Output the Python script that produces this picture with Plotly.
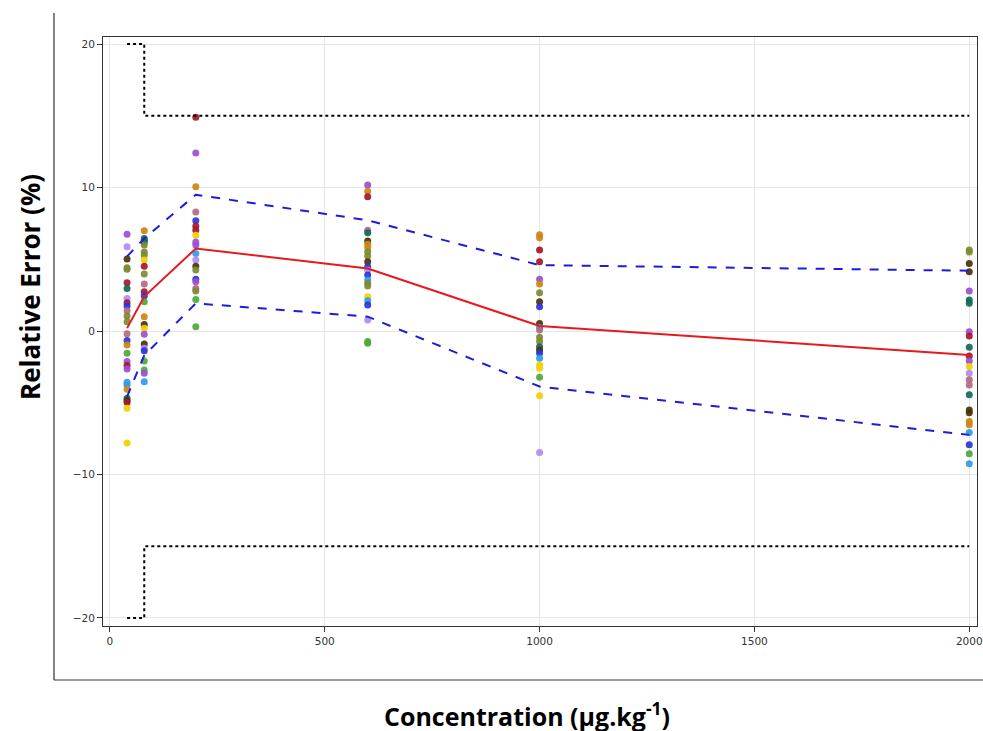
import plotly.graph_objects as go

# ---------------- data ----------------
palette = {
    "purple": "#9a4fd0", "lpurple": "#b08cf2", "dbrown": "#4a3208", "olive": "#7d8a2e",
    "yellow": "#f2d000", "dred": "#a3172d", "teal": "#0f6a5a", "mauve": "#b26a80",
    "blue": "#2a34d8", "lblue": "#2f9ae8", "green": "#4ea73a", "orange": "#cf8410",
}

conc_levels = [40, 80, 200, 600, 1000, 2000]

c40_vals = [6.75, 5.87, 5.01, 4.4, 4.3, 3.36, 2.97, 2.27, 1.97, 1.74, 1.41, 1.04, 0.65, -0.2, -0.67,
            -0.97, -1.55, -2.13, -2.41, -2.65, -3.57, -3.76, -4.06, -4.69, -4.85, -4.99, -5.38, -7.8]
c40_cols = ["purple", "lpurple", "dbrown", "olive", "olive", "dred", "teal", "lpurple", "dred", "blue",
            "mauve", "olive", "olive", "mauve", "blue", "orange", "green", "purple", "dred", "purple",
            "lblue", "lblue", "orange", "teal", "dbrown", "dred", "yellow", "yellow"]

c80_vals = [6.98, 6.45, 6.3, 6.2, 6.0, 5.5, 5.3, 4.94, 4.52, 3.97, 3.27, 2.74, 2.44, 2.04, 1.0, 0.46,
            0.19, -0.23, -0.9, -1.2, -1.37, -2.09, -2.71, -2.95, -3.53]
c80_cols = ["orange", "teal", "teal", "teal", "olive", "olive", "olive", "yellow", "dred", "olive",
            "mauve", "dred", "blue", "green", "orange", "dbrown", "yellow", "purple", "dbrown", "lpurple",
            "blue", "green", "green", "purple", "lblue"]

c200_vals = [14.9, 12.4, 10.05, 8.3, 7.68, 7.3, 7.03, 6.68, 6.2, 6.0, 5.4, 4.94, 4.52, 4.25, 3.6, 3.43,
             2.97, 2.78, 2.2, 0.3]
c200_cols = ["dred", "purple", "orange", "mauve", "blue", "dred", "dred", "yellow", "purple", "purple",
             "lblue", "lpurple", "dbrown", "olive", "blue", "purple", "mauve", "olive", "green", "green"]

c600_vals = [10.18, 9.74, 9.35, 7.03, 6.84, 6.28, 6.05, 5.82, 5.52, 5.22, 4.82, 4.47, 4.24, 3.9, 3.55,
             3.32, 3.13, 2.39, 2.11, 1.81, 0.77, -0.74, -0.85]
c600_cols = ["purple", "orange", "dred", "mauve", "teal", "dbrown", "orange", "orange", "olive", "olive",
             "dbrown", "blue", "lpurple", "blue", "lblue", "olive", "olive", "yellow", "lblue", "blue",
             "lpurple", "green", "green"]

c1000_vals = [6.7, 6.5, 5.64, 4.82, 3.6, 3.27, 2.67, 2.04, 1.69, 0.53, 0.26, 0.07, -0.44, -0.74, -1.09,
              -1.32, -1.55, -1.9, -2.37, -2.6, -3.22, -4.52, -8.47]
c1000_cols = ["orange", "orange", "dred", "dred", "purple", "orange", "olive", "dbrown", "blue", "dbrown",
              "lblue", "mauve", "olive", "olive", "teal", "dbrown", "blue", "lblue", "yellow", "yellow",
              "green", "yellow", "lpurple"]

c2000_vals = [5.64, 5.5, 4.71, 4.13, 2.78, 2.16, 1.93, -0.05, -0.35, -1.13, -1.74, -2.09, -2.48, -2.95,
              -3.4, -3.76, -4.45, -5.5, -5.69, -6.31, -6.54, -7.08, -7.93, -8.56, -9.26]
c2000_cols = ["olive", "olive", "dbrown", "dbrown", "purple", "teal", "teal", "purple", "dred", "teal",
              "dred", "purple", "yellow", "lpurple", "mauve", "mauve", "teal", "dbrown", "dbrown", "orange",
              "orange", "lblue", "blue", "green", "lblue"]

mean_re = [0.2, 2.4, 5.75, 4.36, 0.35, -1.67]
upper_re = [5.2, 6.45, 9.5, 7.72, 4.59, 4.2]
lower_re = [-4.57, -1.7, 1.93, 1.0, -3.87, -7.24]

limit_x = [40, 80, 80, 2000]
limit_upper = [20, 20, 15, 15]
limit_lower = [-20, -20, -15, -15]

x_ticks = [0, 500, 1000, 1500, 2000]
y_ticks = [-20, -10, 0, 10, 20]

# ---------------- figure ----------------
W, H = 983, 731
L, R, T, B = 103, 6, 37, 105
PW, PH = W - L - R, H - T - B

fig = go.Figure()

columns = [(40, c40_vals, c40_cols), (80, c80_vals, c80_cols), (200, c200_vals, c200_cols),
           (600, c600_vals, c600_cols), (1000, c1000_vals, c1000_cols), (2000, c2000_vals, c2000_cols)]
for xc, vals, cols in columns:
    fig.add_trace(go.Scatter(
        x=[xc] * len(vals), y=vals, mode="markers",
        marker=dict(size=7, color=[palette[c] for c in cols], opacity=0.92, line=dict(width=0)),
        showlegend=False, hoverinfo="x+y"))

fig.add_trace(go.Scatter(x=limit_x, y=limit_upper, mode="lines",
                         line=dict(color="black", width=2, dash="dot"), showlegend=False))
fig.add_trace(go.Scatter(x=limit_x, y=limit_lower, mode="lines",
                         line=dict(color="black", width=2, dash="dot"), showlegend=False))
fig.add_trace(go.Scatter(x=conc_levels, y=upper_re, mode="lines",
                         line=dict(color="#1c1cdc", width=2, dash="dash"), showlegend=False))
fig.add_trace(go.Scatter(x=conc_levels, y=lower_re, mode="lines",
                         line=dict(color="#1c1cdc", width=2, dash="dash"), showlegend=False))
fig.add_trace(go.Scatter(x=conc_levels, y=mean_re, mode="lines",
                         line=dict(color="#e8191e", width=2), showlegend=False))

axis_common = dict(
    showgrid=True, gridcolor="#e6e6e6", gridwidth=1, zeroline=False,
    showline=True, linecolor="#333333", linewidth=1, mirror=True,
    ticks="outside", ticklen=5, tickcolor="#333333", automargin=False,
    tickfont=dict(family="DejaVu Sans", size=10.5, color="#333333"),
)

fig.update_xaxes(range=[-16, 2018], tickvals=x_ticks, **axis_common)
fig.update_yaxes(range=[-20.56, 20.49], tickvals=y_ticks, **axis_common)


def px_x(v):
    return (v - L) / PW


def px_y(v):
    return (H - B - v) / PH


fig.update_layout(
    width=W, height=H,
    margin=dict(l=L, r=R, t=T, b=B),
    paper_bgcolor="white", plot_bgcolor="white",
    font=dict(family="Open Sans"),
    annotations=[
        dict(text="<b>Relative Error (%)</b>", xref="paper", yref="paper",
             x=px_x(30), y=px_y(287), textangle=-90, showarrow=False,
             font=dict(family="Open Sans", size=26, color="black"), xanchor="center", yanchor="middle"),
        dict(text="<b>Concentration (µg.kg<sup>-1</sup>)</b>", xref="paper", yref="paper",
             x=px_x(527), y=px_y(714), showarrow=False,
             font=dict(family="Open Sans", size=25, color="black"), xanchor="center", yanchor="middle"),
    ],
    shapes=[
        dict(type="line", xref="paper", yref="paper", x0=px_x(54), x1=px_x(54),
             y0=px_y(13), y1=px_y(680), line=dict(color="#333333", width=1.2)),
        dict(type="line", xref="paper", yref="paper", x0=px_x(54), x1=px_x(990),
             y0=px_y(680), y1=px_y(680), line=dict(color="#333333", width=1.2)),
    ],
)

fig.write_html("out.html", config={"displayModeBar": False})

# remove the default page margin so the figure sits at the window's top-left corner
with open("out.html", "r", encoding="utf-8") as f:
    html = f.read()
html = html.replace("<head>", '<head><style>html,body{margin:0;padding:0;overflow:hidden;}</style>', 1)
with open("out.html", "w", encoding="utf-8") as f:
    f.write(html)
